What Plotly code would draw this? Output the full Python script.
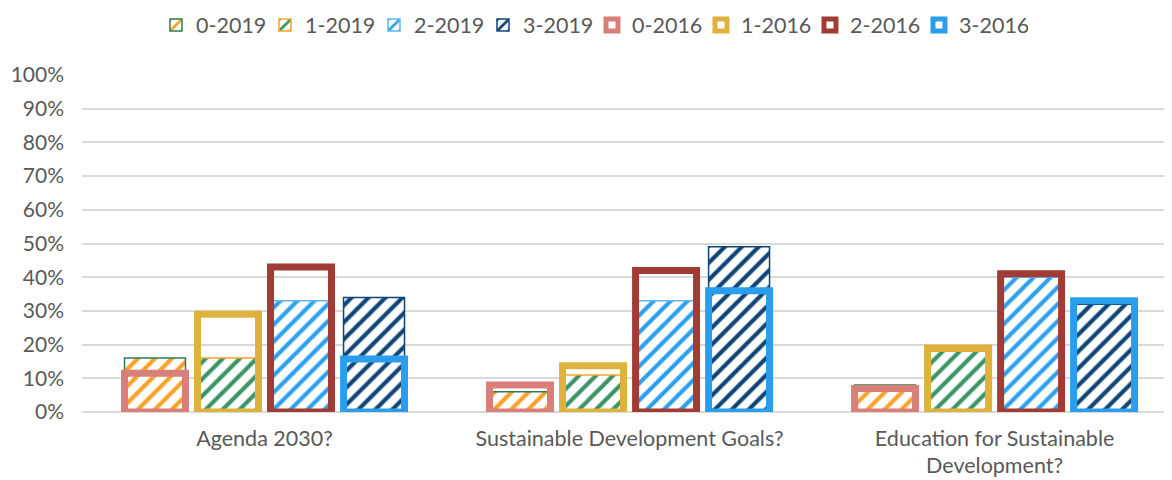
import plotly.graph_objects as go

categories = ["Agenda 2030?", "Sustainable Development Goals?",
              "Education for Sustainable<br>Development?"]

s0_2019 = [0.16, 0.06, 0.08]
s1_2019 = [0.16, 0.11, 0.18]
s2_2019 = [0.33, 0.33, 0.40]
s3_2019 = [0.34, 0.49, 0.32]

s0_2016 = [0.115, 0.08, 0.07]
s1_2016 = [0.29, 0.137, 0.19]
s2_2016 = [0.43, 0.42, 0.41]
s3_2016 = [0.157, 0.36, 0.33]

series_2019 = [
    ("0-2019", s0_2019, "#2E7D4F", "#F9A22A"),
    ("1-2019", s1_2019, "#F9A22A", "#3A9463"),
    ("2-2019", s2_2019, "#5DB6F2", "#2EA0F0"),
    ("3-2019", s3_2019, "#0E4577", "#0E4577"),
]
series_2016 = [
    ("0-2016", s0_2016, "#D77F78"),
    ("1-2016", s1_2016, "#DFB23D"),
    ("2-2016", s2_2016, "#A13B33"),
    ("3-2016", s3_2016, "#2A9DEC"),
]

bar_w = 0.167
pitch = 0.2

fig = go.Figure()
for i, (name, vals, border, hatch) in enumerate(series_2019):
    center = -0.3 + pitch * i
    fig.add_trace(go.Bar(
        name=name, x=categories, y=vals,
        width=bar_w, offset=center - bar_w / 2,
        marker=dict(
            color="white",
            line=dict(color=border, width=1.5),
            pattern=dict(shape="/", fgcolor=hatch, bgcolor="white",
                         size=12, solidity=0.35, fillmode="replace",
                         fgopacity=1),
        ),
    ))
for i, (name, vals, border) in enumerate(series_2016):
    center = -0.3 + pitch * i
    fig.add_trace(go.Bar(
        name=name, x=categories, y=vals,
        width=bar_w, offset=center - bar_w / 2,
        marker=dict(color="rgba(0,0,0,0)", line=dict(color=border, width=7)),
    ))

font_family = "Lato, 'Open Sans', sans-serif"
fig.update_layout(
    width=1164, height=472,
    barmode="overlay",
    paper_bgcolor="white", plot_bgcolor="white",
    margin=dict(l=74, r=0, t=67, b=68, autoexpand=False),
    font=dict(family=font_family, size=21, color="#595959"),
    showlegend=True,
    legend=dict(
        orientation="h", x=0.5017, xanchor="center", xref="container",
        y=1.148, yanchor="middle", yref="paper",
        entrywidth=64, entrywidthmode="pixels",
        font=dict(size=21.5, color="#595959"), traceorder="normal",
        itemwidth=30, bgcolor="rgba(0,0,0,0)",
    ),
    xaxis=dict(
        type="category", range=[-0.5, 2.486], showgrid=False,
        showline=False, ticks="", ticklabelstandoff=11,
        tickfont=dict(size=21.5, color="#595959"),
    ),
    yaxis=dict(
        range=[0, 1], dtick=0.1, tickformat=".0%", showgrid=True,
        gridcolor="#D9D9D9", gridwidth=2, zeroline=True,
        zerolinecolor="#D9D9D9", zerolinewidth=2, showline=False,
        ticks="", ticklabelstandoff=17,
        tickfont=dict(size=21, color="#595959"),
    ),
)

fig.write_html("out.html")
